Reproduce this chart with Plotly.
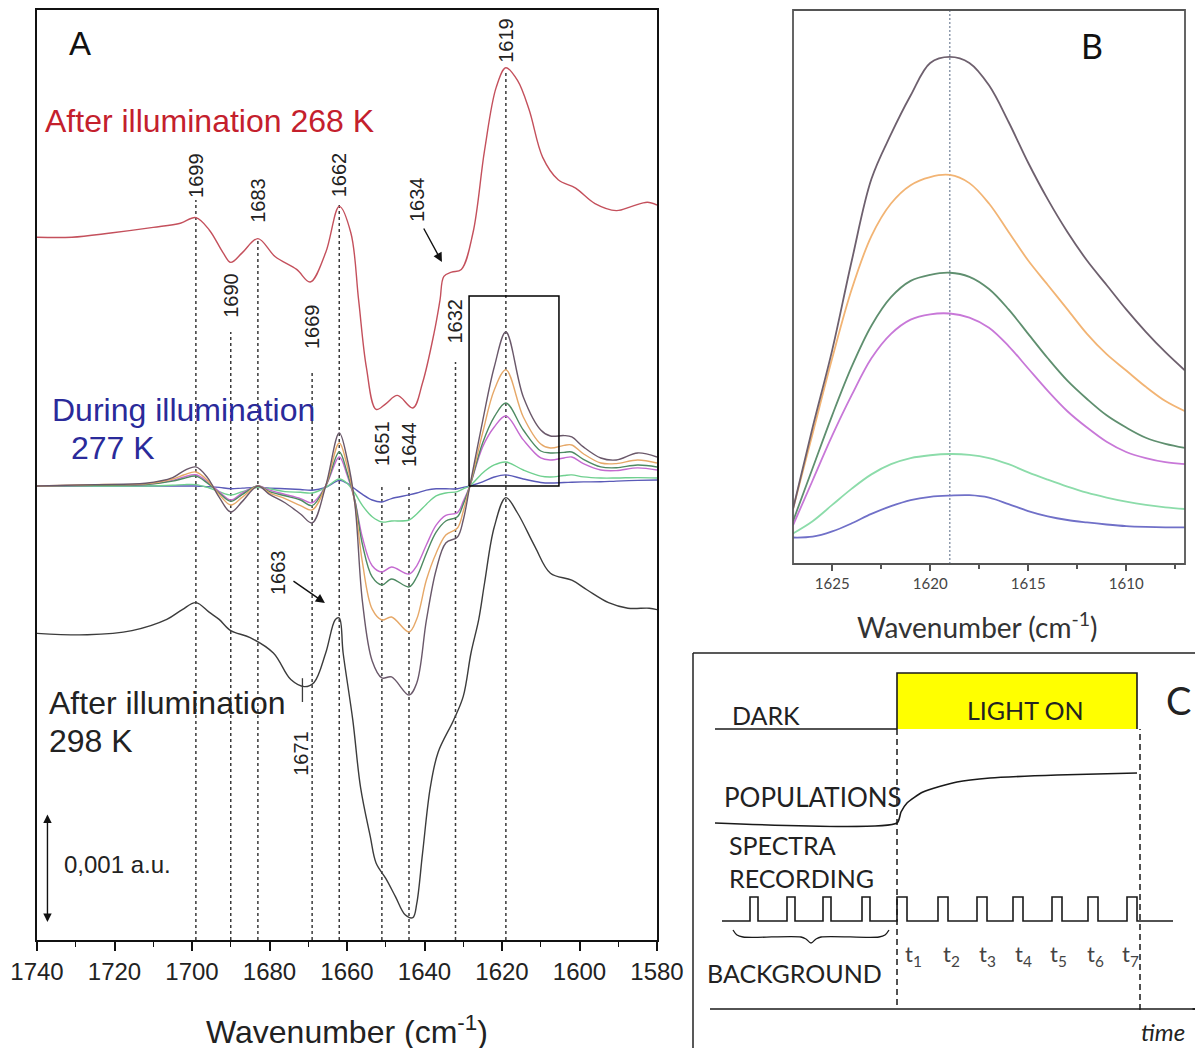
import plotly.graph_objects as go

W, H = 1203, 1048

# ---------------- Panel A : difference spectra (display units, offset-stacked) ----------------
RED_WN = [1740, 1731, 1721, 1710, 1703, 1699, 1695.5, 1692, 1690, 1687, 1683, 1678.5, 1673, 1669.5,
          1665.5, 1662, 1659, 1657, 1655, 1652.5, 1650, 1647, 1643, 1640.5, 1637.5, 1636, 1635, 1633,
          1630.5, 1627.5, 1624.5, 1621.5, 1619, 1616, 1613, 1609.5, 1605.5, 1601, 1596, 1590.5,
          1586.5, 1582.5, 1580]
RED_VAL = [5.02, 5.02, 5.05, 5.09, 5.12, 5.16, 5.07, 4.91, 4.84, 4.91, 5.01, 4.88, 4.79, 4.70,
           4.91, 5.24, 5.05, 4.57, 4.09, 3.79, 3.83, 3.89, 3.80, 3.98, 4.34, 4.57, 4.74, 4.77,
           4.79, 5.05, 5.64, 6.09, 6.23, 6.14, 5.93, 5.59, 5.43, 5.37, 5.26, 5.21,
           5.24, 5.27, 5.25]

BLK_WN = [1740, 1727, 1715.5, 1706.5, 1702.5, 1699, 1695.5, 1693, 1690, 1685, 1679, 1674.5, 1671,
          1668.5, 1665.5, 1663, 1662, 1661, 1658.5, 1656.5, 1654, 1652.5, 1650, 1647.5, 1645, 1643,
          1642, 1640.5, 1638.5, 1636.5, 1632.5, 1630, 1628, 1626, 1624.5, 1622, 1619, 1616, 1611.5,
          1607.5, 1602, 1598, 1592.5, 1587.5, 1582, 1580]
BLK_VAL = [2.19, 2.18, 2.21, 2.29, 2.36, 2.41, 2.34, 2.29, 2.21, 2.16, 2.05, 1.86, 1.81,
           1.84, 2.05, 2.29, 2.30, 2.05, 1.57, 1.09, 0.74, 0.55, 0.44, 0.31, 0.18, 0.16,
           0.26, 0.62, 1.09, 1.34, 1.57, 1.74, 2.05, 2.29, 2.55, 2.95, 3.16, 3.05, 2.81,
           2.62, 2.57, 2.50, 2.41, 2.37, 2.37, 2.36]

DUR_BASE = 3.243
DUR_WN = [1740, 1725, 1712, 1705, 1702, 1699, 1696, 1693, 1690, 1687, 1683, 1680, 1676, 1672, 1669,
          1665.5, 1662, 1660, 1658, 1656, 1653.5, 1651, 1648.5, 1644, 1642, 1639.5, 1637, 1634.5,
          1631.5, 1630, 1628.3, 1625, 1622, 1619, 1614.5, 1610, 1607.5, 1604, 1602, 1599, 1594.5,
          1590.5, 1585, 1580]
DUR_DARK = [0, 0.01, 0.02, 0.06, 0.11, 0.136, 0.06, -0.08, -0.186, -0.11, 0.0, -0.06, -0.12, -0.20, -0.264,
            0.0, 0.379, 0.20, -0.12, -0.83, -1.25, -1.371, -1.364, -1.493, -1.407, -0.957, -0.60, -0.407,
            -0.364, -0.243, 0.0, 0.464, 0.85, 1.10, 0.636, 0.40, 0.357, 0.36, 0.35, 0.279, 0.20,
            0.186, 0.236, 0.207]
DUR_ORANGE = [0, 0.01, 0.015, 0.05, 0.08, 0.10, 0.04, -0.06, -0.136, -0.08, 0.0, -0.05, -0.09, -0.14, -0.171,
              0.0, 0.307, 0.15, -0.12, -0.55, -0.88, -0.957, -0.936, -1.043, -0.95, -0.67, -0.48, -0.35,
              -0.30, -0.18, 0.0, 0.379, 0.686, 0.829, 0.493, 0.30, 0.271, 0.29, 0.293, 0.23, 0.164,
              0.16, 0.186, 0.164]
DUR_DKGREEN = [0, 0.005, 0.01, 0.035, 0.055, 0.07, 0.02, -0.05, -0.11, -0.06, 0.0, -0.04, -0.07, -0.10, -0.14,
               0.0, 0.243, 0.10, -0.10, -0.42, -0.65, -0.707, -0.664, -0.721, -0.65, -0.48, -0.33, -0.25,
               -0.22, -0.13, 0.0, 0.307, 0.493, 0.593, 0.40, 0.25, 0.236, 0.24, 0.243, 0.19, 0.136,
               0.13, 0.15, 0.136]
DUR_MAGENTA = [0, 0.005, 0.01, 0.04, 0.065, 0.08, 0.03, -0.04, -0.10, -0.05, 0.0, -0.03, -0.06, -0.09, -0.12,
               0.0, 0.207, 0.08, -0.10, -0.37, -0.57, -0.614, -0.579, -0.629, -0.57, -0.42, -0.28, -0.21,
               -0.19, -0.11, 0.0, 0.279, 0.421, 0.50, 0.329, 0.20, 0.186, 0.20, 0.207, 0.16, 0.114,
               0.11, 0.129, 0.114]
DUR_LTGREEN = [0, 0, 0, 0.005, 0.01, 0.01, -0.01, -0.04, -0.064, -0.04, -0.01, -0.02, -0.04, -0.045, -0.05,
               -0.01, 0.05, 0.02, -0.05, -0.14, -0.22, -0.257, -0.25, -0.243, -0.20, -0.13, -0.07, -0.05,
               -0.04, -0.02, 0.0, 0.093, 0.15, 0.171, 0.114, 0.07, 0.064, 0.075, 0.079, 0.065, 0.057,
               0.057, 0.06, 0.057]
DUR_BLUE = [0, 0, 0, 0, 0, 0.0, -0.005, -0.01, -0.02, -0.015, -0.01, -0.015, -0.02, -0.025, -0.03,
            -0.01, 0.04, 0.02, -0.02, -0.06, -0.10, -0.114, -0.09, -0.064, -0.05, -0.03, -0.02, -0.02,
            -0.02, -0.01, 0.0, 0.029, 0.064, 0.079, 0.05, 0.025, 0.021, 0.025, 0.027, 0.029, 0.03,
            0.035, 0.04, 0.043]

PEAK_WN = [1699, 1690, 1683, 1669, 1662, 1651, 1644, 1632, 1619]
PEAK_TOP = [5.286, 4.343, 5.0, 4.071, 5.25, 3.25, 3.25, 4.129, 6.214]
LABEL_TXT = ['1619', '1699', '1683', '1662', '1634', '1690', '1669', '1632', '1651', '1644', '1663', '1671']
LABEL_WN = [1619, 1699, 1683, 1662, 1641.9, 1690, 1669, 1632, 1651, 1644, 1677.8, 1671.9]
LABEL_Y = [6.429, 5.464, 5.286, 5.464, 5.286, 4.607, 4.379, 4.421, 3.55, 3.536, 2.621, 1.336]

INSET_WN = [1628.5, 1605.3]
INSET_Y = [3.243, 4.6]
SCALE_WN = 1737.3
SCALE_Y = [0.129, 0.907]

# ---------------- Panel B : zoom of the 1619 band ----------------
B_WN = [1627, 1626, 1625, 1624, 1623, 1622, 1621, 1620, 1619, 1618, 1617, 1616, 1615, 1614, 1613,
        1612, 1611, 1610, 1609, 1608, 1607]
B_DARK = [0.135, 0.335, 0.525, 0.745, 0.945, 1.055, 1.15, 1.23, 1.245, 1.23, 1.175, 1.085, 0.985, 0.895,
          0.815, 0.745, 0.685, 0.625, 0.57, 0.52, 0.475]
B_ORANGE = [0.135, 0.32, 0.505, 0.675, 0.805, 0.885, 0.93, 0.95, 0.955, 0.935, 0.885, 0.815, 0.745, 0.685,
            0.625, 0.565, 0.515, 0.475, 0.435, 0.40, 0.375]
B_DKGREEN = [0.105, 0.235, 0.365, 0.485, 0.585, 0.655, 0.695, 0.71, 0.715, 0.705, 0.675, 0.625, 0.565,
             0.505, 0.45, 0.405, 0.365, 0.335, 0.31, 0.295, 0.285]
B_MAGENTA = [0.095, 0.205, 0.315, 0.415, 0.505, 0.565, 0.60, 0.613, 0.615, 0.605, 0.58, 0.535, 0.48,
             0.425, 0.375, 0.335, 0.30, 0.275, 0.26, 0.25, 0.245]
B_LTGREEN = [0.075, 0.105, 0.145, 0.185, 0.22, 0.245, 0.26, 0.267, 0.27, 0.268, 0.26, 0.245, 0.225,
             0.207, 0.19, 0.175, 0.163, 0.153, 0.145, 0.139, 0.135]
B_BLUE = [0.065, 0.067, 0.08, 0.10, 0.123, 0.142, 0.157, 0.165, 0.168, 0.169, 0.163, 0.147, 0.13, 0.117,
          0.108, 0.102, 0.097, 0.093, 0.091, 0.09, 0.09]
B_MARK = 1619

# ---------------- Panel C : acquisition scheme (schematic time units) ----------------
C_START = -182
LIGHT_ON, LIGHT_OFF = 0, 240
LVL_DARK, LVL_LIGHT = 319, 375
POP_BASE = 225
POP_T = [0, 4, 10, 26, 60, 93, 160, 240]
POP_Y = [225, 236, 245, 256, 266, 270, 273, 275]
PULSE_LOW, PULSE_HIGH = 127, 151
TRAIN_START, TRAIN_END = -175, 276
BG_PULSES = [-147, -110, -74, -35]
BG_WIDTH = 8
REC_PULSES = [0, 41, 80, 116, 155, 191, 230]
REC_WIDTH = 10
T_LABEL_X = [16, 54, 90, 126, 161, 198, 233]
TIME_AXIS_Y = 39
TIME_AXIS_X = [-187, 306]
DASH_X = [0, 243]
DASH_Y0 = [43, 38]
BRACE_T = [-164, -160, -154, -96, -91, -86, -81, -76, -18, -12, -8]
BRACE_Y = [118, 113, 111, 111, 109, 105, 109, 111, 111, 113, 118]

FA = "Liberation Sans, Arial, sans-serif"
FB = "Lato, Open Sans, sans-serif"
OFF = 8  # page body margin


def px(xp):
    return (xp - OFF) / W


def py(yp):
    return 1 - (yp - OFF) / H


fig = go.Figure()

# dotted marker lines
dx, dy = [], []
for wn, top in zip(PEAK_WN, PEAK_TOP):
    dx += [wn, wn, None]
    dy += [0, top, None]
fig.add_trace(go.Scatter(x=dx, y=dy, mode='lines', line=dict(color='#3a3a3a', width=1.5, dash='3px,3px'),
                         xaxis='x', yaxis='y', hoverinfo='skip'))

fig.add_trace(go.Scatter(x=RED_WN, y=RED_VAL, mode='lines', line=dict(color='#c4505c', width=1.4, shape='spline'),
                         xaxis='x', yaxis='y'))
fig.add_trace(go.Scatter(x=BLK_WN, y=BLK_VAL, mode='lines', line=dict(color='#3c3c3c', width=1.4, shape='spline'),
                         xaxis='x', yaxis='y'))
dur = [(DUR_BLUE, '#5a5ab8'), (DUR_LTGREEN, '#6fd08f'), (DUR_MAGENTA, '#c46ad0'),
       (DUR_DKGREEN, '#4e8a62'), (DUR_ORANGE, '#e6a868'), (DUR_DARK, '#6a586a')]
for vals, col in dur:
    fig.add_trace(go.Scatter(x=DUR_WN, y=[DUR_BASE + v for v in vals], mode='lines',
                             line=dict(color=col, width=1.4, shape='spline'), xaxis='x', yaxis='y'))

# inset rectangle
fig.add_trace(go.Scatter(x=[INSET_WN[0], INSET_WN[1], INSET_WN[1], INSET_WN[0], INSET_WN[0]],
                         y=[INSET_Y[0], INSET_Y[0], INSET_Y[1], INSET_Y[1], INSET_Y[0]],
                         mode='lines', line=dict(color='black', width=1.5), xaxis='x', yaxis='y'))
# 1671 tick
fig.add_trace(go.Scatter(x=[1671.5, 1671.5], y=[1.70, 1.87], mode='lines', line=dict(color='#3c3c3c', width=1.3),
                         xaxis='x', yaxis='y'))

# ---------------- Panel B traces ----------------
fig.add_trace(go.Scatter(x=[B_MARK, B_MARK], y=[0, 1.36], mode='lines',
                         line=dict(color='#7d8aa0', width=1.3, dash='2px,2px'), xaxis='x2', yaxis='y2'))
bser = [(B_BLUE, '#7070c8'), (B_LTGREEN, '#8cdcaa'), (B_MAGENTA, '#c878d8'),
        (B_DKGREEN, '#5f8f6f'), (B_ORANGE, '#f2b474'), (B_DARK, '#6e606e')]
for vals, col in bser:
    fig.add_trace(go.Scatter(x=B_WN, y=vals, mode='lines', line=dict(color=col, width=1.8, shape='spline'),
                             xaxis='x2', yaxis='y2'))

# ---------------- Panel C traces ----------------
cline = dict(color='#1a1a1a', width=1.6)
fig.add_trace(go.Scatter(x=[C_START, LIGHT_ON], y=[LVL_DARK, LVL_DARK], mode='lines', line=cline,
                         xaxis='x3', yaxis='y3'))
fig.add_trace(go.Scatter(x=[LIGHT_ON, LIGHT_ON, LIGHT_OFF, LIGHT_OFF, LIGHT_ON],
                         y=[LVL_DARK, LVL_LIGHT, LVL_LIGHT, LVL_DARK, LVL_DARK], mode='lines',
                         fill='toself', fillcolor='#ffff00', line=dict(color='rgba(0,0,0,0)', width=0),
                         xaxis='x3', yaxis='y3'))
fig.add_trace(go.Scatter(x=[LIGHT_ON, LIGHT_ON, LIGHT_OFF, LIGHT_OFF],
                         y=[LVL_DARK, LVL_LIGHT, LVL_LIGHT, LVL_DARK], mode='lines', line=cline,
                         xaxis='x3', yaxis='y3'))
fig.add_trace(go.Scatter(x=[C_START] + POP_T, y=[POP_BASE] + POP_Y, mode='lines',
                         line=dict(color='#1a1a1a', width=1.6, shape='spline', smoothing=0.6),
                         xaxis='x3', yaxis='y3'))
# pulse train
tx, ty = [TRAIN_START], [PULSE_LOW]
for starts, w in ((BG_PULSES, BG_WIDTH), (REC_PULSES, REC_WIDTH)):
    for s in starts:
        tx += [s, s, s + w, s + w]
        ty += [PULSE_LOW, PULSE_HIGH, PULSE_HIGH, PULSE_LOW]
tx.append(TRAIN_END)
ty.append(PULSE_LOW)
fig.add_trace(go.Scatter(x=tx, y=ty, mode='lines', line=cline, xaxis='x3', yaxis='y3'))
# brace
fig.add_trace(go.Scatter(x=BRACE_T, y=BRACE_Y, mode='lines', line=dict(color='#1a1a1a', width=1.3, shape='spline'),
                         xaxis='x3', yaxis='y3'))
# dashed verticals
for xv, y0 in zip(DASH_X, DASH_Y0):
    fig.add_trace(go.Scatter(x=[xv, xv], y=[y0, LVL_DARK], mode='lines',
                             line=dict(color='#1a1a1a', width=1.5, dash='6px,4px'), xaxis='x3', yaxis='y3'))
# time axis
fig.add_trace(go.Scatter(x=TIME_AXIS_X, y=[TIME_AXIS_Y, TIME_AXIS_Y], mode='lines', line=cline,
                         xaxis='x3', yaxis='y3'))

ann = []
# peak labels
for t, xw, yv in zip(LABEL_TXT, LABEL_WN, LABEL_Y):
    ann.append(dict(x=xw, y=yv, xref='x', yref='y', text=t, textangle=-90, showarrow=False,
                    xanchor='center', yanchor='middle', font=dict(family=FA, size=20, color='#222')))


def txt(x, y, s, size, color='#222', fam=FA, xa='left', xref='x', yref='y'):
    return dict(x=x, y=y, xref=xref, yref=yref, text=s, xanchor=xa, yanchor='middle', showarrow=False,
                font=dict(family=fam, size=size, color=color))


ann += [
    txt(1738.4, 5.85, 'After illumination 268 K', 32, '#c4202c'),
    txt(1736.6, 3.786, 'During illumination', 32, '#2a2a9a'),
    txt(1731.7, 3.514, '277 K', 32, '#2a2a9a'),
    txt(1737.4, 1.693, 'After illumination', 32),
    txt(1737.4, 1.421, '298 K', 32),
    txt(1728.9, 6.407, 'A', 33, '#111', xa='center'),
    txt(1733.5, 0.536, '0,001 a.u.', 24),
    # scale bar
    dict(x=SCALE_WN, y=SCALE_Y[0], ax=SCALE_WN, ay=SCALE_Y[1], xref='x', yref='y', axref='x', ayref='y',
         text='', showarrow=True, arrowhead=2, startarrowhead=2, arrowside='end+start', arrowsize=1.2,
         arrowwidth=1.4, arrowcolor='#111'),
    # 1634 arrow
    dict(x=1635.5, y=4.843, ax=1640.4, ay=5.093, xref='x', yref='y', axref='x', ayref='y',
         text='', showarrow=True, arrowhead=2, arrowsize=1.3, arrowwidth=1.4, arrowcolor='#111'),
    # 1663 arrow
    dict(x=1665.7, y=2.407, ax=1674.2, ay=2.571, xref='x', yref='y', axref='x', ayref='y',
         text='', showarrow=True, arrowhead=2, arrowsize=1.3, arrowwidth=1.4, arrowcolor='#111'),
    txt(px(347), py(1030), 'Wavenumber (cm<sup>-1</sup>)', 32, xa='center', xref='paper', yref='paper'),
    # panel B
    txt(px(1092), py(45), 'B', 34, '#111', FB, 'center', 'paper', 'paper'),
    txt(px(977), py(625), 'Wavenumber (cm<sup>-1</sup>)', 28, '#333', FB, 'center', 'paper', 'paper'),
    # panel C
    txt(-167, 333, 'DARK', 25, fam=FB, xref='x3', yref='y3'),
    txt(128, 338, 'LIGHT ON', 25, fam=FB, xa='center', xref='x3', yref='y3'),
    txt(281, 348, 'C', 38, fam=FB, xa='center', xref='x3', yref='y3'),
    txt(-175, 251, 'POPULATIONS', 26, fam=FB, xref='x3', yref='y3'),
    txt(-170, 203, 'SPECTRA', 25, fam=FB, xref='x3', yref='y3'),
    txt(-170, 170, 'RECORDING', 25, fam=FB, xref='x3', yref='y3'),
    txt(-192, 75, 'BACKGROUND', 25, fam=FB, xref='x3', yref='y3'),
    txt(266, 17, '<i>time</i>', 24, fam=FB, xa='center', xref='x3', yref='y3'),
    dict(x=TIME_AXIS_X[1], y=TIME_AXIS_Y, ax=TIME_AXIS_X[1] - 12, ay=TIME_AXIS_Y, xref='x3', yref='y3',
         axref='x3', ayref='y3', text='', showarrow=True, arrowhead=2, arrowsize=1, arrowwidth=1.5,
         arrowcolor='#111'),
]
for i, xt in enumerate(T_LABEL_X):
    ann.append(txt(xt, 93, 't<sub>%d</sub>' % (i + 1), 22, '#444', FB, 'center', 'x3', 'y3'))

shapes = [
    # panel C frame (left and top edges visible)
    dict(type='line', xref='paper', yref='paper', x0=px(693), x1=px(693), y0=0, y1=py(653),
         line=dict(color='#222', width=1.5)),
    dict(type='line', xref='paper', yref='paper', x0=px(693), x1=1, y0=py(653), y1=py(653),
         line=dict(color='#222', width=1.5)),
    # panel B frame
    dict(type='rect', xref='x2 domain', yref='y2 domain', x0=0, x1=1, y0=0, y1=1,
         line=dict(color='#555', width=1.8), fillcolor='rgba(0,0,0,0)', layer='above'),
]

fig.update_layout(
    template='none',
    width=W, height=H, autosize=False, margin=dict(l=0, r=0, t=0, b=0, pad=0),
    paper_bgcolor='white', plot_bgcolor='white', showlegend=False,
    annotations=ann, shapes=shapes,
    xaxis=dict(domain=[px(37), px(657)], range=[1740, 1580], anchor='y', automargin=False,
               showline=True, mirror=True, linecolor='#111', linewidth=1.6,
               ticks='outside', ticklen=9, tickwidth=1.6, tickcolor='#111', dtick=20, tick0=1740,
               minor=dict(ticks='outside', ticklen=5, dtick=10, tick0=1740, tickwidth=1.4, tickcolor='#111',
                          showgrid=False),
               tickfont=dict(family=FA, size=24, color='#222'), showgrid=False, zeroline=False),
    yaxis=dict(domain=[py(940), py(10)], range=[0, 930 / 140], anchor='x', automargin=False,
               showline=True, mirror=True, linecolor='#111', linewidth=1.6,
               showticklabels=False, ticks='', showgrid=False, zeroline=False),
    xaxis2=dict(domain=[px(793), px(1185)], range=[1627, 1607], anchor='y2', automargin=False,
                showline=False,
                tickvals=[1625, 1620, 1615, 1610], ticks='outside', ticklen=6, tickwidth=1.8, tickcolor='#555',
                minor=dict(ticks='outside', ticklen=4, dtick=2.5, tick0=1625, tickwidth=1.5, tickcolor='#555',
                           showgrid=False),
                tickfont=dict(family=FB, size=15, color='#444'), showgrid=False, zeroline=False),
    yaxis2=dict(domain=[py(564), py(10)], range=[0, 1.36], anchor='x2', automargin=False,
                showline=False, showticklabels=False, ticks='', showgrid=False, zeroline=False),
    # one schematic time unit per pixel: the domain spans from page x 692 to the figure edge
    xaxis3=dict(domain=[px(692), 1], range=[-205, 306 + OFF], anchor='y3', visible=False, automargin=False),
    yaxis3=dict(domain=[py(1048), py(653)], range=[0, 395], anchor='x3', visible=False, automargin=False),
)

fig.write_html("out.html")
